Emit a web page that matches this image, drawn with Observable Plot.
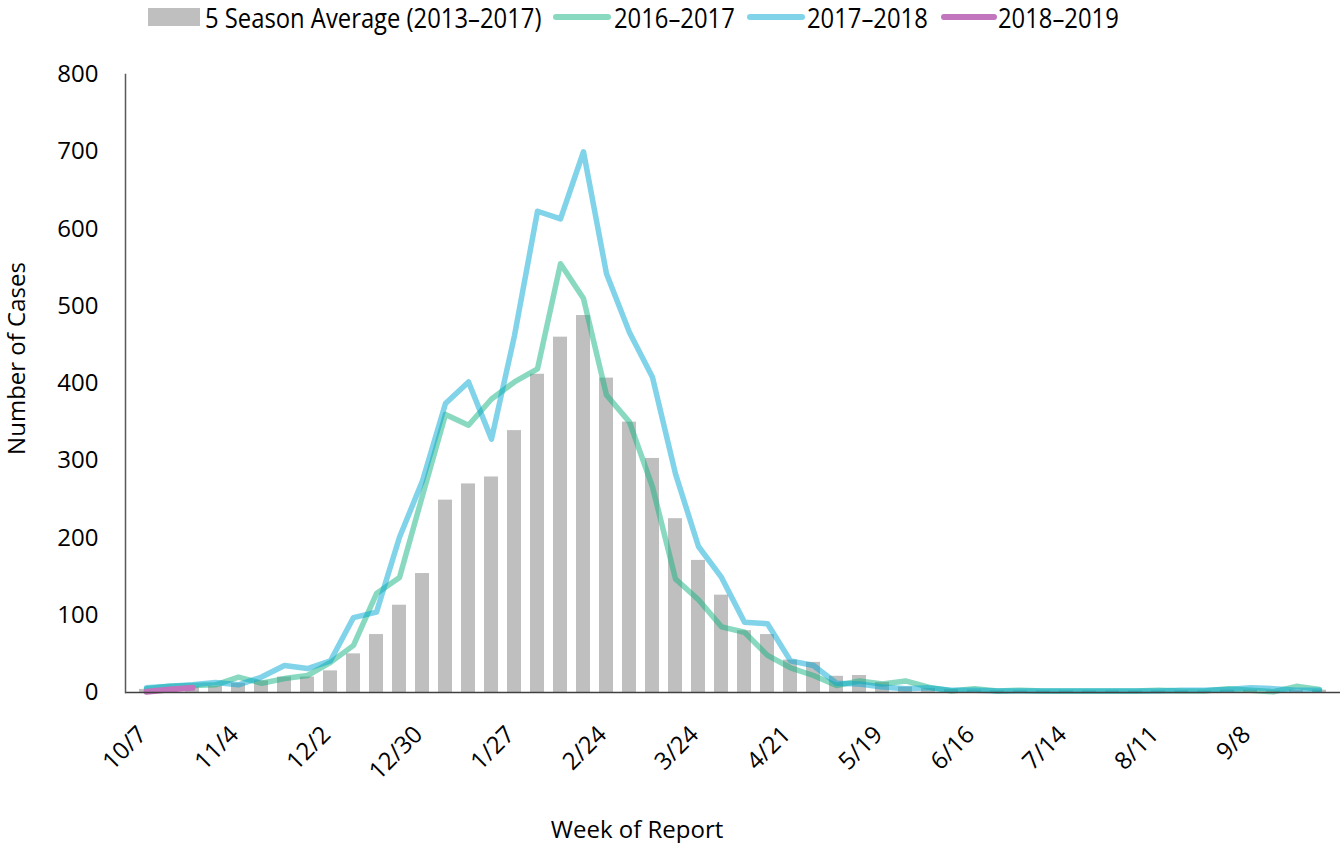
<!DOCTYPE html>
<html><head><meta charset="utf-8">
<script src="https://cdn.jsdelivr.net/npm/d3@7"></script>
<script src="https://cdn.jsdelivr.net/npm/@observablehq/plot@0.6"></script>
<style>
body{margin:0;background:#fff;font-family:"Open Sans",sans-serif;}
#legend{position:relative;height:35px;width:1343px;font-family:"Open Sans",sans-serif;font-size:28px;color:#000;}
#legend .sw{position:absolute;}
#legend .tx{position:absolute;top:0;line-height:34px;white-space:nowrap;transform:scaleX(0.85);transform-origin:0 50%;}
</style></head><body>
<div id="legend"></div>
<div id="chart"></div>
<script>
const weeks = ["10/7","10/14","10/21","10/28","11/4","11/11","11/18","11/25","12/2","12/9","12/16","12/23","12/30","1/6","1/13","1/20","1/27","2/3","2/10","2/17","2/24","3/3","3/10","3/17","3/24","3/31","4/7","4/14","4/21","4/28","5/5","5/12","5/19","5/26","6/2","6/9","6/16","6/23","6/30","7/7","7/14","7/21","7/28","8/4","8/11","8/18","8/25","9/1","9/8","9/15","9/22","9/29"];
const avg5 = [4,5,7,8,12,15,20,20,28,50,75,113,154,249,270,279,339,412,460,488,407,350,303,225,171,126,80,75,42,39,21,22,13,7,5,4,3,2,2,2,2,2,2,2,2,2,2,3,3,2,3,3];
const s1617 = [5,8,9,10,20,12,18,22,39,61,128,149,255,360,346,380,402,419,555,510,385,350,266,147,120,85,78,48,32,22,9,15,11,15,7,2,5,2,3,2,2,2,2,2,3,2,2,5,3,1,8,4];
const s1718 = [6,8,10,13,10,20,35,31,41,97,104,201,274,374,402,328,462,623,613,700,542,466,408,283,189,149,91,89,41,35,12,11,7,5,6,3,3,2,2,2,2,2,2,2,2,3,3,4,6,5,3,3];
const s1819 = [1,4,6];
const tickWeeks = weeks.filter((d, i) => i % 4 === 0);
const yTicks = [0,100,200,300,400,500,600,700,800];
const seriesNames = ["5 Season Average (2013–2017)","2016–2017","2017–2018","2018–2019"];
const colors = {avg:"#bfbfbf", a:"#13b381", b:"#01a7d1", c:"#c274bd"};

// legend
const leg = document.getElementById("legend");
const items = [
  {type:"rect", color:colors.avg, x:148, w:52, tx:205, text:seriesNames[0]},
  {type:"line", color:colors.a, op:0.5, x:553, w:58, tx:614, text:seriesNames[1]},
  {type:"line", color:colors.b, op:0.5, x:747, w:58, tx:807, text:seriesNames[2]},
  {type:"line", color:colors.c, op:1, x:941, w:56, tx:998, text:seriesNames[3]}
];
for (const it of items) {
  const s = document.createElement("div");
  s.className = "sw";
  s.style.left = it.x + "px";
  s.style.width = it.w + "px";
  s.style.background = it.color;
  if (it.type === "rect") { s.style.top = "8px"; s.style.height = "18px"; }
  else { s.style.top = "14px"; s.style.height = "6px"; s.style.borderRadius = "3px"; s.style.opacity = it.op; }
  leg.appendChild(s);
  const t = document.createElement("div");
  t.className = "tx";
  t.style.left = it.tx + "px";
  t.textContent = it.text;
  leg.appendChild(t);
}

const chart = Plot.plot({
  width: 1343,
  height: 808,
  marginTop: 39,
  marginBottom: 151,
  marginLeft: 125,
  marginRight: 3,
  style: {fontFamily: "'Open Sans', sans-serif", fontSize: "24px", color: "#000", background: "#fff"},
  x: {type: "band", domain: weeks, paddingInner: 0.4, paddingOuter: 0.2},
  y: {domain: [0, 800]},
  marks: [
    Plot.barY(weeks, {x: d => d, y: (d, i) => avg5[i], fill: colors.avg}),
    Plot.lineY(weeks, {x: d => d, y: (d, i) => s1617[i], stroke: colors.a, strokeOpacity: 0.5, strokeWidth: 5.5}),
    Plot.lineY(weeks, {x: d => d, y: (d, i) => s1718[i], stroke: colors.b, strokeOpacity: 0.5, strokeWidth: 5.5}),
    Plot.lineY(weeks.slice(0, s1819.length), {x: d => d, y: (d, i) => s1819[i], stroke: colors.c, strokeWidth: 6}),
    Plot.ruleY([0], {stroke: "#404040", strokeWidth: 1.5}),
    Plot.frame({anchor: "left", stroke: "#595959", strokeWidth: 1.5}),
    Plot.axisX({ticks: tickWeeks, tickSize: 0, tickPadding: 38, dx: -4, tickRotate: -45, label: null, fontSize: 24}),
    Plot.axisY({ticks: yTicks, tickSize: 0, tickPadding: 27, label: null, fontSize: 24}),
    Plot.text(["Week of Report"], {frameAnchor: "bottom", dx: -96, dy: 145, fontSize: 24}),
    Plot.text(["Number of Cases"], {frameAnchor: "left", textAnchor: "middle", rotate: -90, dx: -108, dy: -25, fontSize: 24})
  ]
});
document.getElementById("chart").appendChild(chart);
</script>
</body></html>
